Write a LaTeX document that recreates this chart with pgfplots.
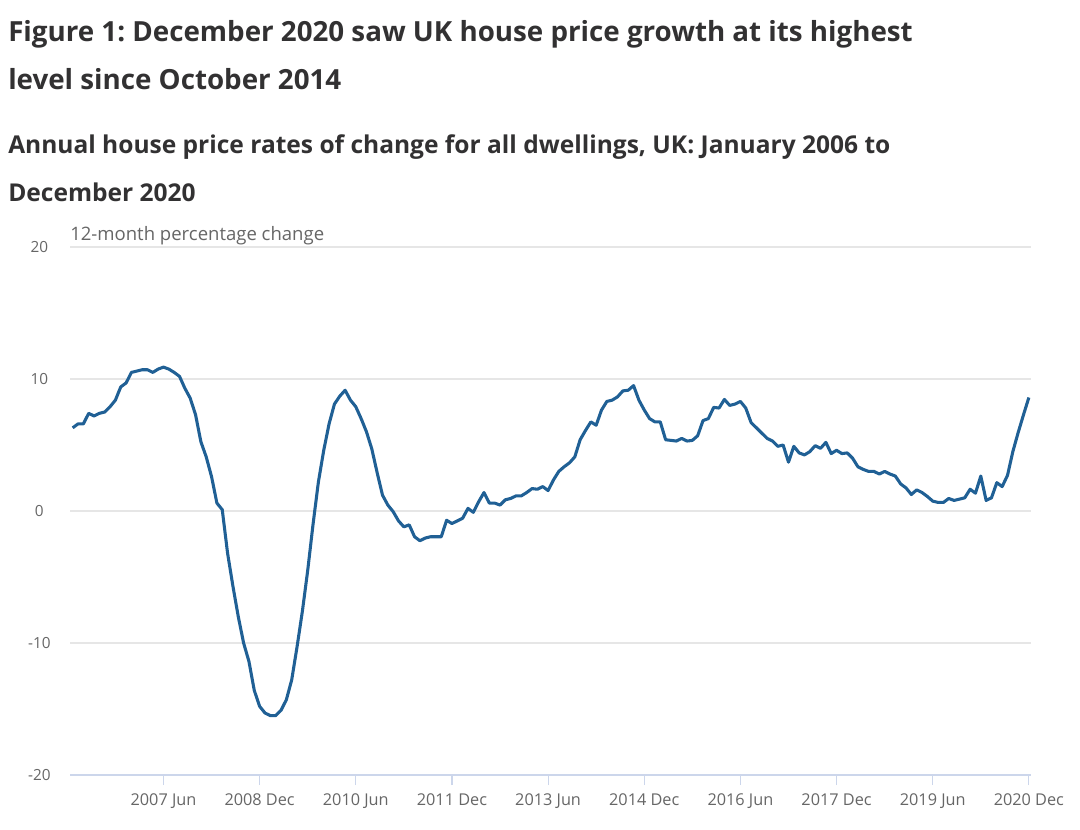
\documentclass[border=0pt]{standalone}
\usepackage{pgfplots}
\pgfplotsset{compat=1.18}
\usepackage{fontspec}
\setmainfont{Open Sans}
\frenchspacing
\definecolor{onsblue}{HTML}{206095}
\definecolor{axisc}{HTML}{CCD6EB}
\definecolor{gridc}{HTML}{E6E6E6}
\definecolor{labc}{HTML}{666666}
\definecolor{titc}{HTML}{323132}
\begin{document}
\begin{tikzpicture}
\useasboundingbox (0,0) rectangle (810pt,-622.5pt);
\node[anchor=base west, text=titc, font=\fontsize{20.8}{24}\selectfont\bfseries, inner sep=0] at (6pt,-31.3pt) {Figure 1: December 2020 saw UK house price growth at its highest};
\node[anchor=base west, text=titc, font=\fontsize{20.8}{24}\selectfont\bfseries, inner sep=0] at (6pt,-67.5pt) {level since October 2014};
\node[anchor=base west, text=titc, font=\fontsize{18.4}{20}\selectfont\bfseries, inner sep=0] at (6pt,-115pt) {Annual house price rates of change for all dwellings, UK: January 2006 to};
\node[anchor=base west, text=titc, font=\fontsize{18.4}{20}\selectfont\bfseries, inner sep=0] at (6pt,-151.3pt) {December 2020};
\begin{axis}[
  at={(52.5pt,-581.25pt)}, anchor=south west,
  scale only axis, width=720.75pt, height=396pt,
  xmin=-0.5, xmax=179.4, ymin=-20, ymax=20,
  axis x line*=bottom, axis y line*=left,
  x axis line style={axisc, line width=0.9pt},
  y axis line style={draw=none},
  ytick={-20,-10,0,10,20}, yticklabels={-20,-10,0,10,20},
  ytick style={draw=none},
  xtick={17,35,53,71,89,107,125,143,161,179},
  xticklabels={2007 Jun,2008 Dec,2010 Jun,2011 Dec,2013 Jun,2014 Dec,2016 Jun,2017 Dec,2019 Jun,2020 Dec},
  xtick align=outside, major tick length=7.5pt,
  xtick style={axisc, line width=0.9pt},
  ymajorgrids, grid style={gridc, line width=0.9pt},
  xticklabel style={text=labc, font=\fontsize{12.2}{13}\selectfont, yshift=-3pt},
  yticklabel style={text=labc, font=\fontsize{11.5}{12}\selectfont, anchor=center, xshift=-23pt},
]
\addplot[onsblue, line width=2.3pt, line join=round] table {
x y
0 6.3
1 6.6
2 6.6
3 7.4
4 7.2
5 7.4
6 7.5
7 7.9
8 8.4
9 9.4
10 9.7
11 10.5
12 10.6
13 10.7
14 10.7
15 10.5
16 10.75
17 10.9
18 10.75
19 10.5
20 10.2
21 9.3
22 8.55
23 7.3
24 5.25
25 4.1
26 2.6
27 0.6
28 0.1
29 -3.2
30 -5.7
31 -8.0
32 -10.0
33 -11.4
34 -13.6
35 -14.8
36 -15.3
37 -15.5
38 -15.5
39 -15.1
40 -14.3
41 -12.8
42 -10.3
43 -7.6
44 -4.5
45 -1.0
46 2.2
47 4.6
48 6.6
49 8.1
50 8.7
51 9.15
52 8.4
53 7.9
54 7.0
55 6.0
56 4.7
57 2.9
58 1.2
59 0.45
60 -0.05
61 -0.75
62 -1.2
63 -1.05
64 -1.95
65 -2.25
66 -2.05
67 -1.95
68 -1.95
69 -1.95
70 -0.7
71 -0.95
72 -0.75
73 -0.55
74 0.2
75 -0.1
76 0.7
77 1.4
78 0.6
79 0.6
80 0.45
81 0.85
82 0.95
83 1.15
84 1.15
85 1.4
86 1.7
87 1.65
88 1.85
89 1.55
90 2.35
91 3.0
92 3.35
93 3.65
94 4.1
95 5.4
96 6.1
97 6.75
98 6.5
99 7.65
100 8.3
101 8.4
102 8.65
103 9.1
104 9.15
105 9.5
106 8.4
107 7.65
108 7.0
109 6.75
110 6.75
111 5.4
112 5.35
113 5.3
114 5.5
115 5.3
116 5.35
117 5.7
118 6.85
119 7.0
120 7.85
121 7.8
122 8.45
123 8.0
124 8.1
125 8.3
126 7.8
127 6.7
128 6.3
129 5.9
130 5.5
131 5.3
132 4.9
133 5.0
134 3.7
135 4.9
136 4.4
137 4.25
138 4.5
139 4.95
140 4.75
141 5.2
142 4.35
143 4.6
144 4.35
145 4.4
146 4.0
147 3.35
148 3.15
149 3.0
150 3.0
151 2.8
152 3.0
153 2.8
154 2.65
155 2.05
156 1.75
157 1.25
158 1.6
159 1.4
160 1.1
161 0.75
162 0.65
163 0.65
164 0.95
165 0.8
166 0.9
167 1.0
168 1.65
169 1.35
170 2.65
171 0.8
172 1.0
173 2.15
174 1.85
175 2.7
176 4.5
177 5.95
178 7.3
179 8.6
};
\end{axis}
\node[anchor=base west, text=labc, font=\fontsize{13.9}{15}\selectfont, inner sep=0] at (52.5pt,-180.75pt) {12-month percentage change};
\end{tikzpicture}
\end{document}
